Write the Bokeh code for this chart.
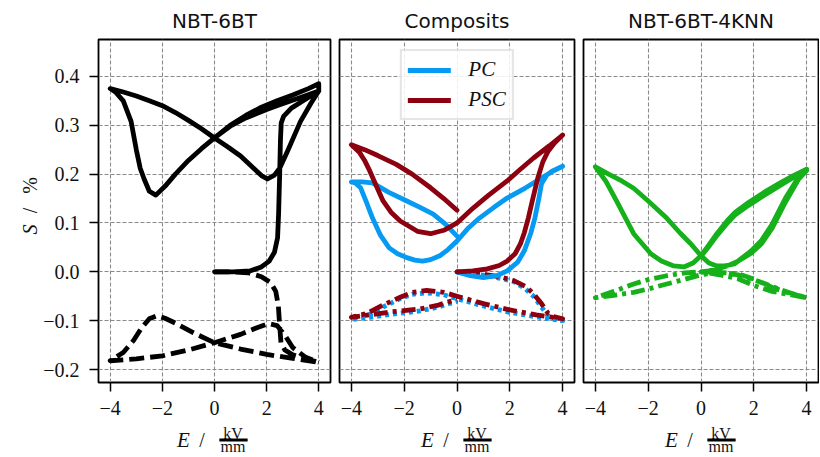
import math
from bokeh.plotting import figure
from bokeh.layouts import row, column
from bokeh.models import Range1d, Label, Legend, LegendItem, CustomJSTickFormatter
from bokeh.embed import file_html
from bokeh.resources import INLINE

# ---------------- data ----------------
titles = ["NBT-6BT", "Composits", "NBT-6BT-4KNN"]
x_ticks = [-4, -2, 0, 2, 4]
y_ticks = [-0.2, -0.1, 0.0, 0.1, 0.2, 0.3, 0.4]
legend_labels = ["PC", "PSC"]

# Panel 1: NBT-6BT, solid curve
bk_init_E = [0.0, 0.7, 1.38, 1.8, 2.1, 2.3, 2.42, 2.46, 2.5, 2.53, 2.56, 2.65, 2.95, 3.4, 4.0]
bk_init_S = [0.0, 0.0, 0.002, 0.01, 0.022, 0.04, 0.07, 0.12, 0.2, 0.27, 0.305, 0.318, 0.335, 0.35, 0.37]
bk_desc_E = [4.0, 3.3, 2.5, 2.0, 1.2, 0.6, 0.0, -0.5, -1.0, -1.5, -1.9, -2.25, -2.5, -2.7, -2.85, -3.0, -3.2, -3.5, -3.8, -4.0]
bk_desc_S = [0.37, 0.357, 0.342, 0.332, 0.315, 0.298, 0.274, 0.252, 0.228, 0.2, 0.175, 0.157, 0.165, 0.19, 0.212, 0.25, 0.308, 0.35, 0.368, 0.375]
bk_asc_E = [-4.0, -3.5, -3.0, -2.5, -2.0, -1.5, -1.0, -0.5, 0.0, 0.5, 1.0, 1.5, 1.8, 2.03, 2.3, 2.5, 2.8, 3.3, 3.7, 4.0]
bk_asc_S = [0.375, 0.368, 0.36, 0.35, 0.34, 0.326, 0.31, 0.293, 0.274, 0.256, 0.237, 0.212, 0.197, 0.19, 0.198, 0.212, 0.247, 0.308, 0.345, 0.37]
bk_desc2_E = [4.0, 4.0, 3.6, 3.0, 2.4, 1.8, 1.2, 0.6, 0.0]
bk_desc2_S = [0.37, 0.385, 0.375, 0.362, 0.35, 0.337, 0.32, 0.3, 0.274]

# Panel 1: dashed curve
bd_init_E = [0.0, 0.6, 1.3, 1.8, 2.15, 2.35, 2.45, 2.5, 2.55, 2.7, 3.0, 3.5, 4.0]
bd_init_S = [0.0, 0.0, -0.002, -0.01, -0.022, -0.04, -0.07, -0.11, -0.145, -0.16, -0.17, -0.178, -0.185]
bd_desc_E = [4.0, 3.5, 3.0, 2.0, 1.0, 0.0, -0.8, -1.5, -1.9, -2.2, -2.5, -2.8, -3.1, -3.5, -4.0]
bd_desc_S = [-0.185, -0.181, -0.177, -0.169, -0.158, -0.145, -0.125, -0.105, -0.095, -0.09, -0.096, -0.115, -0.14, -0.165, -0.182]
bd_asc_E = [-4.0, -3.0, -2.0, -1.0, 0.0, 1.0, 1.6, 2.07, 2.4, 2.7, 3.0, 3.5, 4.0]
bd_asc_S = [-0.182, -0.178, -0.172, -0.16, -0.145, -0.128, -0.115, -0.106, -0.11, -0.13, -0.155, -0.175, -0.185]

# Panel 2: PC (blue) solid
pc_init_E = [0.0, 0.5, 1.0, 1.5, 1.9, 2.3, 2.55, 2.8, 2.95, 3.1, 3.2, 3.4, 3.6, 3.8, 4.0]
pc_init_S = [0.0, -0.008, -0.012, -0.008, 0.002, 0.02, 0.043, 0.08, 0.11, 0.15, 0.18, 0.198, 0.206, 0.211, 0.216]
pc_desc_E = [4.0, 3.6, 3.2, 2.6, 1.9, 1.4, 0.85, 0.4, 0.0, -0.35, -0.65, -1.0, -1.3, -1.6, -1.9, -2.25, -2.57, -2.9, -3.2, -3.45, -3.65, -3.85, -4.0]
pc_desc_S = [0.216, 0.205, 0.192, 0.172, 0.151, 0.132, 0.11, 0.088, 0.063, 0.045, 0.033, 0.025, 0.022, 0.024, 0.029, 0.037, 0.049, 0.075, 0.11, 0.145, 0.172, 0.182, 0.184]
pc_asc_E = [-4.0, -3.6, -3.2, -2.6, -1.9, -1.4, -0.9, -0.45, 0.0]
pc_asc_S = [0.184, 0.184, 0.182, 0.163, 0.145, 0.132, 0.118, 0.098, 0.073]

# Panel 2: PSC (red) solid
psc_init_E = [0.0, 0.6, 1.15, 1.6, 1.9, 2.2, 2.4, 2.55, 2.7, 2.85, 3.06, 3.25, 3.45, 3.7, 4.0]
psc_init_S = [0.0, 0.002, 0.006, 0.013, 0.022, 0.037, 0.057, 0.08, 0.11, 0.145, 0.192, 0.225, 0.247, 0.264, 0.28]
psc_desc_E = [4.0, 3.5, 2.9, 2.4, 1.9, 1.2, 0.6, 0.0, -0.5, -1.0, -1.5, -2.15, -2.5, -2.8, -3.05, -3.3, -3.5, -3.7, -4.0]
psc_desc_S = [0.28, 0.258, 0.233, 0.21, 0.186, 0.157, 0.13, 0.1, 0.085, 0.078, 0.083, 0.104, 0.122, 0.145, 0.175, 0.206, 0.228, 0.245, 0.26]
psc_asc_E = [-4.0, -3.5, -3.0, -2.3, -1.7, -1.0, -0.5, 0.0]
psc_asc_S = [0.26, 0.25, 0.238, 0.22, 0.2, 0.172, 0.15, 0.126]

# Panel 2: lower curves (red dash-dot, blue dotted)
t_init_E = [0.0, 0.5, 1.15, 1.7, 2.15, 2.6, 2.9, 3.2, 3.45, 3.7, 4.0]
t_desc_E = [4.0, 3.0, 2.0, 1.0, 0.0, -0.5, -1.15, -1.7, -2.15, -2.8, -3.4, -4.0]
t_asc_E = [-4.0, -3.3, -2.5, -1.4, -0.7, 0.0]
psc_t_init_S = [0.0, -0.002, -0.006, -0.011, -0.018, -0.03, -0.045, -0.065, -0.085, -0.092, -0.096]
psc_t_desc_S = [-0.096, -0.088, -0.078, -0.065, -0.05, -0.042, -0.038, -0.042, -0.052, -0.068, -0.085, -0.093]
psc_t_asc_S = [-0.093, -0.088, -0.082, -0.076, -0.068, -0.056]
pc_t_init_S = [0.0, -0.003, -0.008, -0.014, -0.02, -0.035, -0.05, -0.072, -0.09, -0.097, -0.1]
pc_t_desc_S = [-0.1, -0.092, -0.083, -0.07, -0.055, -0.047, -0.043, -0.046, -0.055, -0.072, -0.09, -0.098]
pc_t_asc_S = [-0.098, -0.093, -0.087, -0.08, -0.072, -0.06]

# Panel 3: NBT-6BT-4KNN green solid
gr_init_E = [0.0, 0.3, 0.6, 1.0, 1.4, 1.9, 2.3, 2.7, 3.2, 3.7, 4.0]
gr_init_S = [0.0, 0.002, 0.006, 0.012, 0.022, 0.038, 0.058, 0.09, 0.143, 0.19, 0.207]
gr_desc_E = [4.0, 3.5, 3.0, 2.4, 1.8, 1.3, 1.0, 0.6, 0.3, 0.0, -0.3, -0.65, -1.03, -1.5, -1.9, -2.55, -3.2, -3.6, -4.0]
gr_desc_S = [0.21, 0.197, 0.182, 0.163, 0.142, 0.122, 0.105, 0.078, 0.055, 0.033, 0.018, 0.01, 0.012, 0.022, 0.037, 0.078, 0.145, 0.185, 0.215]
gr_asc_E = [-4.0, -3.5, -3.0, -2.55, -2.0, -1.3, -0.8, -0.38, 0.0, 0.3, 0.6, 0.9, 1.26, 1.9, 2.3, 2.7, 3.2, 3.72, 4.0]
gr_asc_S = [0.215, 0.2, 0.186, 0.171, 0.145, 0.11, 0.08, 0.057, 0.033, 0.018, 0.012, 0.012, 0.016, 0.043, 0.065, 0.098, 0.151, 0.196, 0.21]
gr_desc2_E = [4.0, 3.5, 3.0, 2.4, 1.8, 1.3, 1.0, 0.6, 0.3, 0.0]
gr_desc2_S = [0.21, 0.193, 0.177, 0.157, 0.136, 0.117, 0.1, 0.074, 0.052, 0.032]

# Panel 3: green dash-dot
grt_init_E = [0.0, 0.7, 1.4, 2.0, 2.7, 3.3, 4.0]
grt_init_S = [0.0, -0.001, -0.006, -0.016, -0.03, -0.042, -0.053]
grt_desc_E = [4.0, 3.3, 2.7, 2.0, 1.4, 0.7, 0.0, -0.6, -1.3, -2.0, -2.55, -3.3, -4.0]
grt_desc_S = [-0.053, -0.046, -0.04, -0.028, -0.014, -0.006, 0.0, -0.002, -0.008, -0.016, -0.025, -0.04, -0.053]
grt_asc_E = [-4.0, -3.3, -2.55, -2.0, -1.3, -0.6, 0.0, 0.7, 1.4, 2.0, 2.7, 3.3, 4.0]
grt_asc_S = [-0.053, -0.048, -0.042, -0.035, -0.025, -0.015, -0.006, -0.001, -0.004, -0.015, -0.032, -0.043, -0.053]

# ---------------- styling / layout ----------------
BLACK = "#000000"
BLUE = "#069AF3"
RED = "#8C000F"
GREEN = "#15B01A"
XR = (-4.45, 4.45)
YR = (-0.2265, 0.4755)
FRAME_W = 235
TOP = 38
FRAME_H = 344
BOTTOM = 40
ROW_H = TOP + FRAME_H + BOTTOM        # 422
TOTAL_H = 456
YLAB_W = 40
SERIF = "Liberation Serif"
TXT = "#111111"
LW = 4.8


def txt(p, x, y, text, size="20px", style="normal", angle=0.0):
    p.add_layout(Label(x=x, y=y, text=text, text_font=SERIF, text_font_size=size,
                       text_font_style=style, text_color=TXT, text_align="center",
                       text_baseline="middle", angle=angle))


def make_fig(title, left, right, show_y):
    p = figure(width=left + FRAME_W + right, height=ROW_H,
               x_range=Range1d(*XR), y_range=Range1d(*YR),
               output_backend="svg", toolbar_location=None,
               min_border_left=left, min_border_right=right,
               min_border_top=TOP, min_border_bottom=BOTTOM)
    p.title.text = title
    p.title.align = "center"
    p.title.text_font = "DejaVu Sans"
    p.title.text_font_style = "normal"
    p.title.text_font_size = "20px"
    p.title.text_color = TXT
    p.title.standoff = 13
    p.outline_line_color = "black"
    p.outline_line_width = 1.8
    p.outline_line_alpha = 1.0
    for ax in (p.xaxis, p.yaxis):
        ax.axis_line_color = None
        ax.major_tick_line_color = "black"
        ax.major_tick_line_width = 1.5
        ax.major_tick_out = 9
        ax.major_tick_in = 0
        ax.minor_tick_out = 0
        ax.minor_tick_in = 0
        ax.major_label_text_font = SERIF
        ax.major_label_text_font_size = "20px"
        ax.major_label_text_color = TXT
    p.xaxis.ticker = x_ticks
    p.yaxis.ticker = y_ticks
    p.xaxis.major_label_standoff = 9
    p.yaxis.major_label_standoff = 10
    p.xaxis.formatter = CustomJSTickFormatter(
        code="return (tick < -1e-9 ? '\\u2212' : '') + Math.abs(tick).toFixed(0);")
    p.yaxis.formatter = CustomJSTickFormatter(
        code="return (tick < -1e-9 ? '\\u2212' : '') + Math.abs(tick).toFixed(1);")
    p.xgrid.ticker = x_ticks
    p.ygrid.ticker = y_ticks
    for g in (p.xgrid, p.ygrid):
        g.grid_line_color = "#8a8a8a"
        g.grid_line_dash = "4 2"
        g.grid_line_width = 1.1
    if not show_y:
        p.yaxis.visible = False
    return p


def path(*parts):
    xs, ys = [], []
    for e, s in parts:
        xs += list(e)
        ys += list(s)
    return xs, ys


# ---------- panel 1 ----------
p1 = make_fig(titles[0], 95 - YLAB_W, 5, True)
x, y = path((bd_init_E, bd_init_S), (bd_desc_E, bd_desc_S), (bd_asc_E, bd_asc_S))
p1.line(x, y, line_color=BLACK, line_width=LW, line_dash="15 6", line_join="round")
x, y = path((bk_init_E, bk_init_S), (bk_desc_E, bk_desc_S), (bk_asc_E, bk_asc_S), (bk_desc2_E, bk_desc2_S))
p1.line(x, y, line_color=BLACK, line_width=LW, line_join="round", line_cap="round")

# ---------- panel 2 ----------
p2 = make_fig(titles[1], 4, 5, False)
x, y = path((t_init_E, pc_t_init_S), (t_desc_E, pc_t_desc_S), (t_asc_E, pc_t_asc_S))
p2.line(x, y, line_color=BLUE, line_width=LW, line_dash="4 4", line_join="round")
x, y = path((t_init_E, psc_t_init_S), (t_desc_E, psc_t_desc_S), (t_asc_E, psc_t_asc_S))
p2.line(x, y, line_color=RED, line_width=LW, line_dash="14 5 4 5", line_join="round")
x, y = path((pc_init_E, pc_init_S), (pc_desc_E, pc_desc_S), (pc_asc_E, pc_asc_S))
r_pc = p2.line(x, y, line_color=BLUE, line_width=LW, line_join="round", line_cap="round")
x, y = path((psc_init_E, psc_init_S), (psc_desc_E, psc_desc_S), (psc_asc_E, psc_asc_S))
r_psc = p2.line(x, y, line_color=RED, line_width=LW, line_join="round", line_cap="round")
legend = Legend(items=[LegendItem(label=legend_labels[0], renderers=[r_pc]),
                       LegendItem(label=legend_labels[1], renderers=[r_psc])],
                location="top_center", orientation="vertical",
                label_text_font=SERIF, label_text_font_style="italic",
                label_text_font_size="21px", label_text_color=TXT,
                glyph_width=43, glyph_height=20, label_height=20, label_standoff=18,
                spacing=5, padding=6, margin=10,
                border_line_color="#cccccc", border_line_width=2,
                background_fill_color="white", background_fill_alpha=0.85)
p2.add_layout(legend)

# ---------- panel 3 ----------
p3 = make_fig(titles[2], 4, 1, False)
x, y = path((grt_init_E, grt_init_S), (grt_desc_E, grt_desc_S), (grt_asc_E, grt_asc_S))
p3.line(x, y, line_color=GREEN, line_width=LW, line_dash="14 5 4 5", line_join="round")
x, y = path((gr_init_E, gr_init_S), (gr_desc_E, gr_desc_S), (gr_asc_E, gr_asc_S), (gr_desc2_E, gr_desc2_S))
p3.line(x, y, line_color=GREEN, line_width=LW, line_join="round", line_cap="round")

plots_w = p1.width + p2.width + p3.width


def strip(width, height, xr, yr):
    s = figure(width=width, height=height, x_range=Range1d(*xr), y_range=Range1d(*yr),
               output_backend="svg", toolbar_location=None,
               min_border_left=0, min_border_right=0, min_border_top=0, min_border_bottom=0)
    s.axis.visible = False
    s.grid.visible = False
    s.outline_line_color = None
    return s


# y-axis label strip (page pixel coordinates, y downwards)
ylab = strip(YLAB_W, TOTAL_H, (0, YLAB_W), (TOTAL_H, 0))
txt(ylab, 29, 229, "S", size="20px", style="italic", angle=math.pi / 2)
txt(ylab, 29, 210, "/", size="20px", angle=math.pi / 2)
txt(ylab, 29, 185, "%", size="20px", angle=math.pi / 2)

# x-axis label strip:  E / kV over mm, under each panel
xlab = strip(plots_w, TOTAL_H - ROW_H, (YLAB_W, YLAB_W + plots_w), (TOTAL_H, ROW_H))
left_edges = [95, 95 + FRAME_W + 5 + 4, 95 + 2 * (FRAME_W + 9)]
for le in left_edges:
    c = le + FRAME_W / 2
    txt(xlab, c - 29.5, 439, "E", size="21px", style="italic")
    txt(xlab, c - 11, 439, "/", size="20px")
    txt(xlab, c + 20, 432.5, "kV", size="16px")
    xlab.add_layout(Label(x=c + 20.5, y=439.5, text=" ", text_font_size="1px",
                          text_align="center", text_baseline="middle",
                          background_fill_color="black", background_fill_alpha=1.0,
                          padding=dict(x=14, y=1)))
    txt(xlab, c + 20, 446, "mm", size="16px")

layout = row(ylab, column(row(p1, p2, p3), xlab))
with open("out.html", "w", encoding="utf-8") as f:
    f.write(file_html(layout, INLINE))
